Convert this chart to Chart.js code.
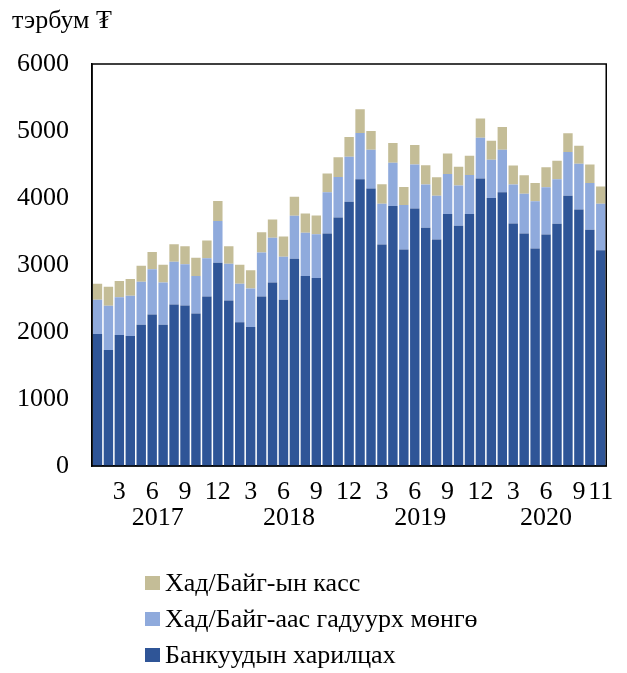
<!DOCTYPE html>
<html><head><meta charset="utf-8">
<script src="https://cdn.jsdelivr.net/npm/chart.js@4/dist/chart.umd.min.js"></script>
<style>
html,body{margin:0;padding:0;background:#fff;}
#wrap{position:relative;width:627px;height:673px;font-family:"Liberation Serif","DejaVu Serif",serif;}
#title{position:absolute;left:12px;top:5px;font-size:26px;color:#000;}
#legend{position:absolute;left:145px;top:565px;font-size:26px;color:#000;}
.li{height:36px;line-height:36px;white-space:nowrap;}
.sw{display:inline-block;width:15px;height:14px;margin-right:5px;vertical-align:middle;position:relative;top:-2px;}
</style></head>
<body><div id="wrap">
<canvas id="c" width="627" height="673"></canvas>
<div id="title">тэрбум ₮</div>
<div id="legend"></div>
</div>
<script>
const months = ["2017-01","2017-02","2017-03","2017-04","2017-05","2017-06","2017-07","2017-08","2017-09","2017-10","2017-11","2017-12",
"2018-01","2018-02","2018-03","2018-04","2018-05","2018-06","2018-07","2018-08","2018-09","2018-10","2018-11","2018-12",
"2019-01","2019-02","2019-03","2019-04","2019-05","2019-06","2019-07","2019-08","2019-09","2019-10","2019-11","2019-12",
"2020-01","2020-02","2020-03","2020-04","2020-05","2020-06","2020-07","2020-08","2020-09","2020-10","2020-11"];
const years = ["2017","2018","2019","2020"];
const yTicks = [0,1000,2000,3000,4000,5000,6000];
const bankTransactions = [1970,1730,1955,1940,2110,2260,2110,2410,2395,2275,2530,3035,
2470,2145,2075,2530,2740,2480,3095,2835,2805,3470,3710,3945,
4280,4140,3305,3880,3230,3845,3555,3380,3760,3585,3760,4290,
4000,4085,3620,3470,3245,3455,3615,4035,3830,3525,3220];
const currencyOutside = [510,660,565,600,640,675,630,640,615,560,570,620,
550,575,575,655,665,645,640,645,655,615,605,670,
690,580,610,645,665,655,645,655,600,600,585,610,
570,635,580,595,705,705,665,650,680,700,695];
const bankCash = [240,285,240,250,240,260,265,260,270,275,265,300,
260,285,270,305,275,300,285,290,280,280,295,295,
355,280,290,295,270,290,290,275,305,280,285,285,
285,340,285,275,275,300,275,280,270,275,255];
const seriesNames = ["Банкуудын харилцах","Хад/Байг-аас гадуурх мөнгө","Хад/Байг-ын касс"];
const seriesColors = ["#2F5597","#8FAADC","#C4BD97"];

const FAMILY = '"Liberation Serif","DejaVu Serif",serif';
const FONT = {family:FAMILY, size:26, lineHeight:1};

function yearCenter(y){
  const idx = months.map(function(m,i){return m.startsWith(y)?i:-1;}).filter(function(i){return i>=0;});
  return (idx[0]+idx[idx.length-1]+1)/2;
}

const frame = {
  id:'frame',
  afterDraw(chart){
    const a = chart.chartArea, ctx = chart.ctx;
    ctx.save(); ctx.strokeStyle='#000'; ctx.lineWidth=1.5;
    ctx.strokeRect(a.left, a.top, a.right-a.left, a.bottom-a.top);
    ctx.restore();
  }
};

new Chart(document.getElementById('c'), {
  type:'bar',
  data:{
    labels: months,
    datasets:[
      {label:seriesNames[0], data:bankTransactions, backgroundColor:seriesColors[0], xAxisID:'x', yAxisID:'y'},
      {label:seriesNames[1], data:currencyOutside, backgroundColor:seriesColors[1], xAxisID:'x', yAxisID:'y'},
      {label:seriesNames[2], data:bankCash, backgroundColor:seriesColors[2], xAxisID:'x', yAxisID:'y'}
    ]
  },
  options:{
    responsive:false, animation:false,
    layout:{padding:{top:64,right:20,left:-6,bottom:154}},
    plugins:{legend:{display:false}, tooltip:{enabled:false}},
    datasets:{bar:{categoryPercentage:1, barPercentage:0.86, borderWidth:0}},
    scales:{
      x:{
        stacked:true, offset:true,
        grid:{display:false, drawTicks:false},
        border:{display:true, color:'#000', width:1.5},
        ticks:{autoSkip:false, maxRotation:0, minRotation:0, padding:13.5, color:'#000', font:FONT,
          callback:function(v,i){
            const m = parseInt(months[i].slice(5),10);
            if (m%3===0 || i===months.length-1) return String(m);
            return '';
          }}
      },
      x2:{
        type:'linear', position:'bottom', min:0, max:months.length, offset:false,
        grid:{display:false, drawTicks:false, offset:false}, border:{display:false},
        afterBuildTicks:function(ax){
          ax.ticks = years.map(function(y){ return {value:yearCenter(y)}; });
        },
        ticks:{mirror:true, padding:0, color:'#000', font:{family:FAMILY, size:26, lineHeight:0.1},
          callback:function(v){
            for (const y of years){ if (Math.abs(yearCenter(y) - v) < 0.01) return y; }
            return '';
          }}
      },
      y:{
        stacked:true, min:0, max:6000,
        afterBuildTicks:function(ax){ ax.ticks = yTicks.map(function(v){return {value:v};}); },
        grid:{display:false, drawTicks:false},
        border:{display:true, color:'#000', width:1.5},
        ticks:{padding:23, color:'#000', font:FONT, callback:function(v){return String(v);}}
      }
    }
  },
  plugins:[frame]
});

const lg = document.getElementById('legend');
for (let i = seriesNames.length-1; i >= 0; i--) {
  const d = document.createElement('div'); d.className='li';
  const s = document.createElement('span'); s.className='sw'; s.style.background=seriesColors[i];
  d.appendChild(s); d.appendChild(document.createTextNode(seriesNames[i]));
  lg.appendChild(d);
}
</script>
</body></html>
